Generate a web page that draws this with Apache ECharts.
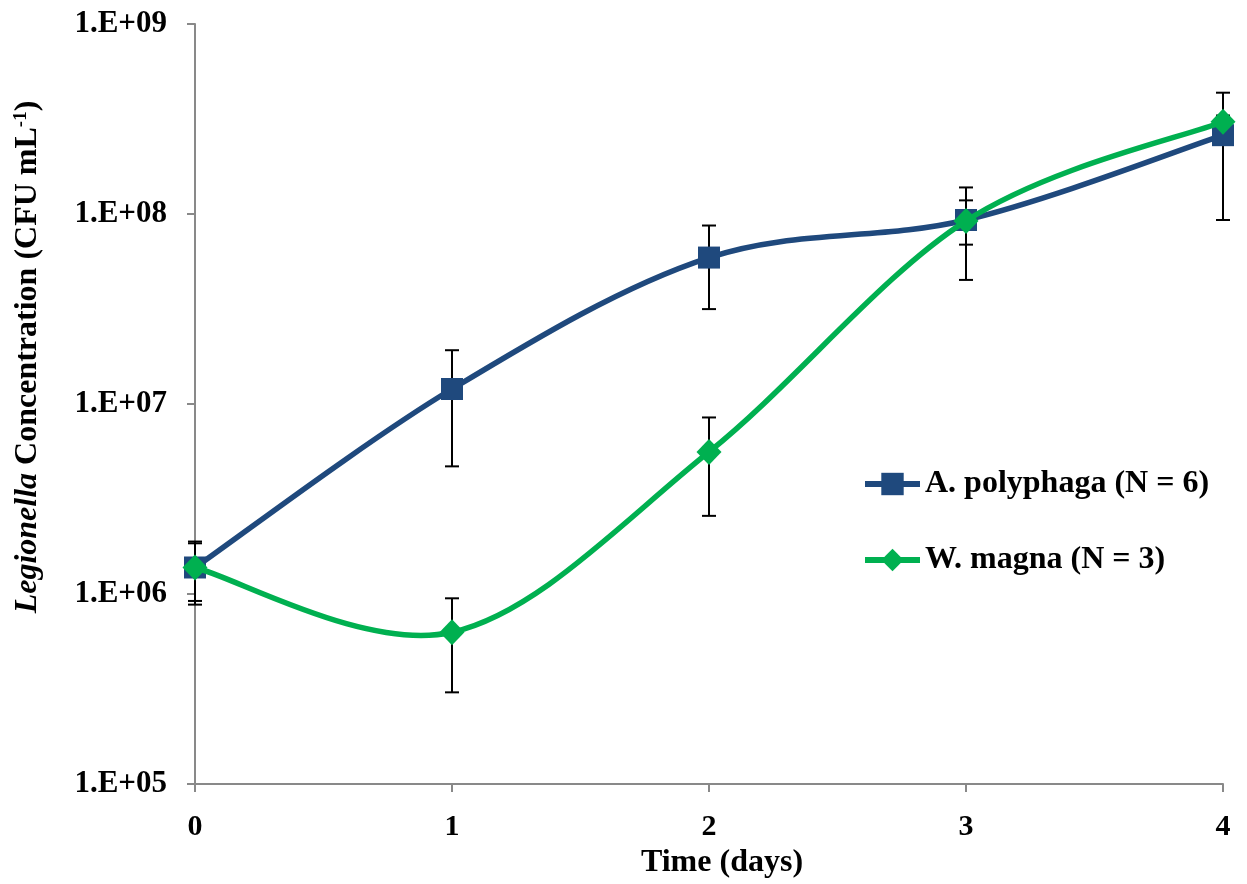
<!DOCTYPE html>
<html>
<head>
<meta charset="utf-8">
<script src="https://cdn.jsdelivr.net/npm/echarts@6/dist/echarts.min.js"></script>
<style>html,body{margin:0;padding:0;background:#fff;}#c{width:1247px;height:884px;}</style>
</head>
<body>
<div id="c"></div>
<script>
const days = [0, 1, 2, 3, 4];
const polyMean = [1.38e6, 1.2e7, 5.9e7, 9.3e7, 2.6e8];
const polyHigh = [1.89e6, 1.92e7, 8.7e7, 1.38e8, 4.35e8];
const polyLow = [8.8e5, 4.7e6, 3.16e7, 4.5e7, 9.3e7];
const magnaMean = [1.38e6, 6.3e5, 5.6e6, 9.2e7, 3.06e8];
const magnaHigh = [1.85e6, 9.5e5, 8.5e6, 1.18e8, 3.3e8];
const magnaLow = [9.2e5, 3.04e5, 2.58e6, 6.9e7, 2.85e8];
const yTicks = [1e5, 1e6, 1e7, 1e8, 1e9];
const seriesNames = ['A. polyphaga (N = 6)', 'W. magna (N = 3)'];
const xTitle = 'Time (days)';
const yTitle = '{i|Legionella} Concentration (CFU mL{s|-1})';

const FONT = '"Liberation Serif", "Times New Roman", serif';
const AXIS_COLOR = '#898989';
const BLUE = '#1F497D', GREEN = '#00B050';

function errData(lo, hi) { return days.map((d, i) => [d, lo[i], hi[i]]); }
function renderErr(params, api) {
  const x = api.value(0), lo = api.value(1), hi = api.value(2);
  const a = api.coord([x, hi]), b = api.coord([x, lo]);
  const w = 7;
  const st = { stroke: '#000', lineWidth: 2 };
  return { type: 'group', children: [
    { type: 'line', shape: { x1: a[0], y1: a[1], x2: b[0], y2: b[1] }, style: st },
    { type: 'line', shape: { x1: a[0] - w, y1: a[1], x2: a[0] + w, y2: a[1] }, style: st },
    { type: 'line', shape: { x1: b[0] - w, y1: b[1], x2: b[0] + w, y2: b[1] }, style: st }
  ]};
}
// Excel-like smoothed line (Catmull-Rom style Bezier) through points mapped by the axes
function smoothRenderer(values, color) {
  return function (params, api) {
    if (params.dataIndex !== 0) return null;
    const pts = days.map((d, i) => api.coord([d, values[i]]));
    const children = [];
    for (let i = 0; i < pts.length - 1; i++) {
      const p0 = pts[i - 1] || pts[i], p1 = pts[i], p2 = pts[i + 1], p3 = pts[i + 2] || pts[i + 1];
      children.push({
        type: 'bezierCurve',
        shape: {
          x1: p1[0], y1: p1[1], x2: p2[0], y2: p2[1],
          cpx1: p1[0] + (p2[0] - p0[0]) / 6, cpy1: p1[1] + (p2[1] - p0[1]) / 6,
          cpx2: p2[0] - (p3[0] - p1[0]) / 6, cpy2: p2[1] - (p3[1] - p1[1]) / 6
        },
        style: { stroke: color, lineWidth: 5.5, fill: null, lineCap: 'round' }
      });
    }
    return { type: 'group', children };
  };
}

const chart = echarts.init(document.getElementById('c'), null, { renderer: 'canvas' });
chart.setOption({
  animation: false,
  backgroundColor: '#fff',
  grid: { left: 195, right: 24, top: 24, bottom: 98, containLabel: false },
  legend: {
    data: seriesNames,
    orient: 'vertical',
    left: 862, top: 468, padding: 0,
    itemWidth: 55, itemHeight: 28, itemGap: 44,
    lineStyle: { width: 6, opacity: 1 },
    textStyle: { fontFamily: FONT, fontWeight: 'bold', fontSize: 32, color: '#000' }
  },
  graphic: [{
    type: 'text', x: 28, y: 357, rotation: Math.PI / 2, z: 10,
    style: {
      text: yTitle, align: 'center', verticalAlign: 'middle',
      fontFamily: FONT, fontWeight: 'bold', fontSize: 32, fill: '#000',
      rich: {
        i: { fontFamily: FONT, fontWeight: 'bold', fontStyle: 'italic', fontSize: 32, fill: '#000' },
        s: { fontFamily: FONT, fontWeight: 'bold', fontSize: 19, fill: '#000', verticalAlign: 'top' }
      }
    }
  }],
  xAxis: {
    type: 'value', min: 0, max: 4, interval: 1,
    name: xTitle, nameLocation: 'middle', nameGap: 58,
    nameTextStyle: { fontFamily: FONT, fontWeight: 'bold', fontSize: 32, color: '#000', padding: [0, 0, 0, 26] },
    axisLine: { show: true, lineStyle: { color: AXIS_COLOR, width: 2 } },
    axisTick: { show: true, length: 8, lineStyle: { color: AXIS_COLOR, width: 2 } },
    axisLabel: { margin: 28, fontFamily: FONT, fontWeight: 'bold', fontSize: 30, color: '#000' },
    splitLine: { show: false }
  },
  yAxis: {
    type: 'log', logBase: 10, min: yTicks[0], max: yTicks[yTicks.length - 1],
    axisLine: { show: true, lineStyle: { color: AXIS_COLOR, width: 2 } },
    axisTick: { show: true, length: 8, lineStyle: { color: AXIS_COLOR, width: 2 } },
    axisLabel: {
      margin: 28, fontFamily: FONT, fontWeight: 'bold', fontSize: 31, color: '#000',
      formatter: v => { const e = Math.round(Math.log10(v)); return '1.E+' + (e < 10 ? '0' : '') + e; }
    },
    splitLine: { show: false }
  },
  series: [
    { type: 'custom', name: 'errPoly', renderItem: renderErr, data: errData(polyLow, polyHigh), encode: { x: 0, y: [1, 2] }, z: 1, silent: true },
    { type: 'custom', name: 'errMagna', renderItem: renderErr, data: errData(magnaLow, magnaHigh), encode: { x: 0, y: [1, 2] }, z: 1, silent: true },
    { type: 'custom', name: 'curvePoly', renderItem: smoothRenderer(polyMean, BLUE), data: days.map((d, i) => [d, polyMean[i]]), encode: { x: 0, y: 1 }, z: 2, silent: true },
    {
      type: 'line', name: seriesNames[0], data: days.map((d, i) => [d, polyMean[i]]),
      symbol: 'rect', symbolSize: 22, z: 3,
      lineStyle: { color: BLUE, width: 5.5, opacity: 0 }, itemStyle: { color: BLUE }
    },
    { type: 'custom', name: 'curveMagna', renderItem: smoothRenderer(magnaMean, GREEN), data: days.map((d, i) => [d, magnaMean[i]]), encode: { x: 0, y: 1 }, z: 4, silent: true },
    {
      type: 'line', name: seriesNames[1], data: days.map((d, i) => [d, magnaMean[i]]),
      symbol: 'diamond', symbolSize: [25, 26], z: 5,
      lineStyle: { color: GREEN, width: 5.5, opacity: 0 }, itemStyle: { color: GREEN }
    }
  ]
});
</script>
</body>
</html>
